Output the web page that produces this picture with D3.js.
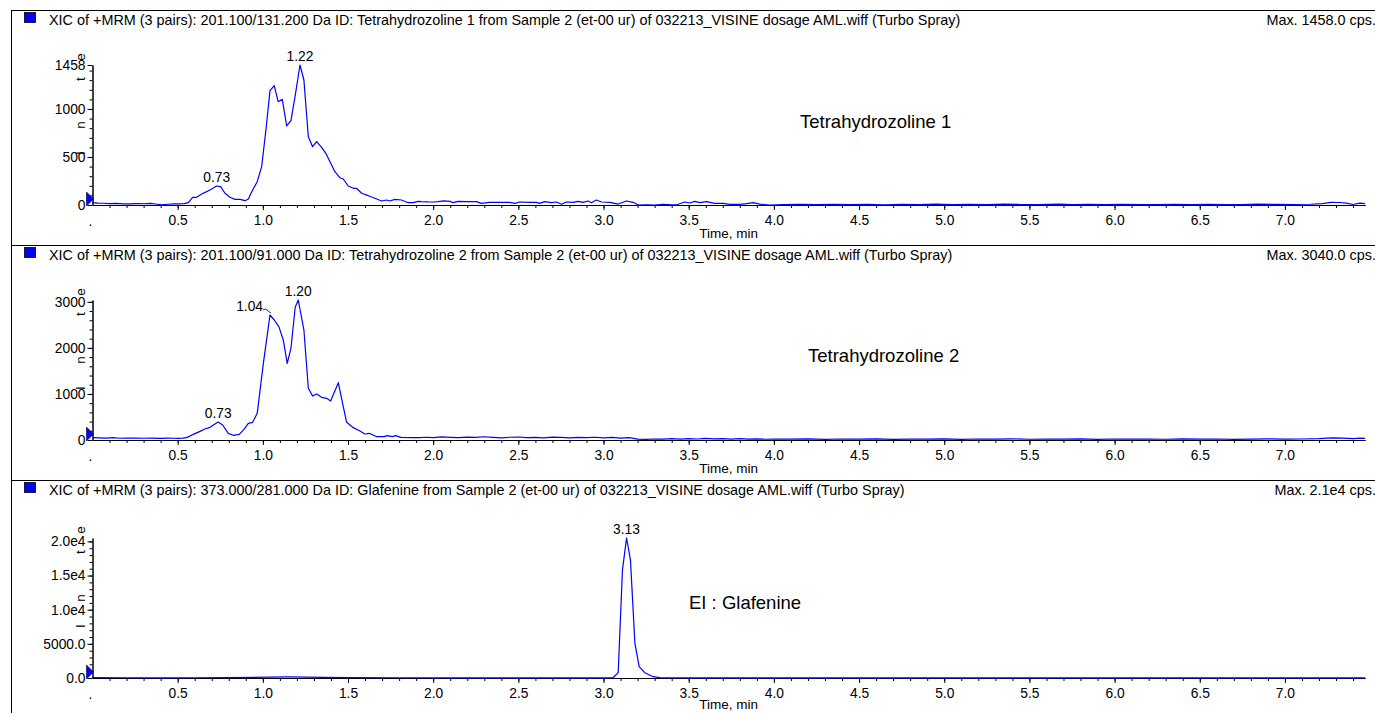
<!DOCTYPE html>
<html>
<head>
<meta charset="utf-8">
<script src="https://cdn.jsdelivr.net/npm/d3@7"></script>
<style>
  body { margin: 0; background: #fff; }
  svg { display: block; font-family: "Liberation Sans", Arial, sans-serif; }
  .axis text { font-family: "Liberation Sans", Arial, sans-serif; font-size: 13.8px; fill: #000; }
  .axis path, .axis line { stroke: #000; stroke-width: 1; }
</style>
</head>
<body>
<svg id="chart" width="1375" height="713"></svg>
<script>
/*
Three stacked XIC traces (MRM), one panel per transition
*/
var headers = [
  "XIC of +MRM (3 pairs): 201.100/131.200 Da ID: Tetrahydrozoline 1 from Sample 2 (et-00 ur) of 032213_VISINE dosage AML.wiff (Turbo Spray)",
  "XIC of +MRM (3 pairs): 201.100/91.000 Da ID: Tetrahydrozoline 2 from Sample 2 (et-00 ur) of 032213_VISINE dosage AML.wiff (Turbo Spray)",
  "XIC of +MRM (3 pairs): 373.000/281.000 Da ID: Glafenine from Sample 2 (et-00 ur) of 032213_VISINE dosage AML.wiff (Turbo Spray)"
];
var maxLabels = ["Max. 1458.0 cps.", "Max. 3040.0 cps.", "Max. 2.1e4 cps."];
var names = ["Tetrahydrozoline 1", "Tetrahydrozoline 2", "EI : Glafenine"];
var yMax = [1458, 3040, 20500];
var yTicks = [[0, 500, 1000, 1458], [0, 1000, 2000, 3000], [0, 5000, 10000, 15000, 20000]];
var yTickLabels = [["0", "500", "1000", "1458"], ["0", "1000", "2000", "3000"], ["0.0", "5000.0", "1.0e4", "1.5e4", "2.0e4"]];
var yMinorStep = [100, 200, 1000];
var xTicks = [0.5, 1.0, 1.5, 2.0, 2.5, 3.0, 3.5, 4.0, 4.5, 5.0, 5.5, 6.0, 6.5, 7.0];

var times1 = [0.00, 0.03, 0.06, 0.10, 0.14, 0.18, 0.22, 0.26, 0.30, 0.34, 0.38, 0.41, 0.44, 0.48, 0.51, 0.54,
  0.562, 0.588, 0.611, 0.641, 0.670, 0.699, 0.729, 0.752, 0.778, 0.807, 0.836, 0.866, 0.895, 0.915, 0.940,
  0.967, 0.993, 1.018, 1.042, 1.067, 1.090, 1.114, 1.140, 1.165, 1.192, 1.218, 1.241, 1.267, 1.292, 1.316,
  1.345, 1.370, 1.394, 1.423, 1.452, 1.472, 1.501, 1.531, 1.550, 1.580, 1.619, 1.658, 1.697, 1.726, 1.746,
  1.775, 1.814, 1.853, 1.882, 1.912, 1.932, 1.970, 2.000, 2.030, 2.059, 2.100, 2.117, 2.146, 2.195, 2.254,
  2.283, 2.332, 2.391, 2.449, 2.478, 2.508, 2.567, 2.606, 2.625, 2.655, 2.694, 2.723, 2.753, 2.782, 2.821,
  2.850, 2.880, 2.909, 2.929, 2.958, 2.988, 3.037, 3.086, 3.135, 3.174, 3.204, 3.25, 3.30, 3.35, 3.40, 3.43,
  3.477, 3.506, 3.536, 3.565, 3.604, 3.653, 3.702, 3.741, 3.80, 3.84, 3.878, 3.917, 3.976, 4.054, 4.15, 4.25,
  4.35, 4.45, 4.55, 4.65, 4.75, 4.85, 4.95, 5.05, 5.15, 5.25, 5.35, 5.45, 5.55, 5.68, 5.75, 5.85, 5.95, 6.04,
  6.15, 6.25, 6.35, 6.45, 6.55, 6.65, 6.75, 6.84, 6.95, 7.05, 7.15, 7.22, 7.27, 7.32, 7.36, 7.40, 7.44, 7.47];
var inten1 = [24, 20, 18, 15, 16, 12, 11, 14, 13, 16, 8, 2, 8, 12, 11, 14,
  24, 80, 80, 115, 139, 167, 198, 191, 122, 80, 59, 59, 45, 62, 156,
  243, 399, 781, 1191, 1243, 1076, 1101, 823, 878, 1163, 1458, 1302, 711, 607, 659,
  601, 538, 451, 347, 284, 271, 198, 174, 174, 122, 97, 70, 42, 52, 42,
  59, 52, 24, 25, 38, 35, 32, 31, 36, 42, 38, 24, 38, 35, 35,
  17, 28, 28, 28, 17, 31, 28, 28, 17, 35, 24, 31, 7, 31, 28,
  38, 28, 42, 24, 52, 31, 28, 10, 42, 28, 0, 2, 0, 7, 2, 2,
  31, 21, 38, 24, 35, 17, 17, 7, 7, 14, 24, 10, 0, 3, 7, 4,
  8, 3, 6, 2, 7, 4, 9, 3, 6, 4, 10, 5, 3, 10, 4, 6, 3, 8,
  5, 4, 7, 3, 6, 5, 4, 10, 6, 5, 8, 15, 28, 26, 20, 5, 20, 15];

var times2 = [0.00, 0.04, 0.08, 0.12, 0.16, 0.20, 0.25, 0.30, 0.35, 0.40, 0.44, 0.48, 0.50, 0.53, 0.553,
  0.592, 0.631, 0.660, 0.690, 0.719, 0.738, 0.764, 0.797, 0.826, 0.862, 0.889, 0.915, 0.940, 0.967, 1.003,
  1.042, 1.067, 1.094, 1.120, 1.143, 1.165, 1.190, 1.208, 1.241, 1.267, 1.292, 1.316, 1.345, 1.374, 1.398,
  1.443, 1.468, 1.492, 1.531, 1.570, 1.599, 1.625, 1.668, 1.712, 1.730, 1.760, 1.780, 1.810, 1.878, 1.917,
  1.96, 2.00, 2.05, 2.10, 2.15, 2.20, 2.25, 2.30, 2.35, 2.40, 2.45, 2.50, 2.55, 2.60, 2.65, 2.70, 2.75,
  2.80, 2.85, 2.90, 2.95, 3.00, 3.05, 3.10, 3.15, 3.20, 3.25, 3.30, 3.35, 3.40, 3.45, 3.50, 3.55, 3.60,
  3.65, 3.70, 3.75, 3.80, 3.85, 3.90, 3.95, 4.00, 4.10, 4.20, 4.30, 4.40, 4.50, 4.60, 4.70, 4.80, 4.90,
  5.00, 5.10, 5.20, 5.30, 5.40, 5.50, 5.60, 5.70, 5.80, 5.90, 6.00, 6.10, 6.20, 6.30, 6.40, 6.50, 6.60,
  6.70, 6.80, 6.90, 7.00, 7.10, 7.20, 7.28, 7.34, 7.40, 7.44, 7.47];
var inten2 = [51, 45, 40, 50, 38, 42, 40, 38, 42, 36, 40, 38, 35, 40, 51,
  123, 188, 239, 275, 347, 391, 326, 145, 102, 123, 232, 362, 384, 579, 1665,
  2714, 2606, 2461, 2172, 1665, 1991, 2882, 3040, 2389, 1122, 955, 999, 927, 905, 847,
  1245, 797, 384, 268, 195, 130, 145, 72, 72, 94, 72, 94, 58, 51, 51,
  60, 52, 66, 58, 50, 62, 55, 70, 58, 48, 60, 65, 52, 58, 48, 62, 55,
  45, 58, 50, 60, 48, 55, 42, 50, 20, 15, 22, 18, 28, 20, 30, 22, 35,
  25, 30, 20, 28, 18, 24, 16, 22, 18, 25, 15, 22, 18, 26, 15, 20, 17,
  24, 15, 22, 18, 25, 16, 21, 18, 24, 15, 22, 18, 20, 16, 24, 18, 22,
  15, 20, 24, 18, 22, 30, 45, 40, 28, 42, 35];

var times3 = [0.00, 0.20, 0.40, 0.60, 0.80, 0.95, 1.05, 1.15, 1.25, 1.35, 1.50, 1.80, 2.20, 2.60, 3.00,
  3.056, 3.086, 3.111, 3.135, 3.158, 3.184, 3.209, 3.242, 3.291, 3.33, 3.50, 4.00, 4.50, 5.00, 5.50,
  6.00, 6.50, 7.00, 7.47];
var inten3 = [60, 40, 30, 40, 60, 90, 140, 160, 140, 100, 60, 40, 30, 25, 30,
  40, 780, 15800, 20500, 17300, 5100, 1660, 780, 190, 50, 20, 15, 10, 10, 8,
  8, 8, 8, 8];

var peaks1 = [[0.729, 198, "0.73"], [1.218, 1458, "1.22"]];
var peaks2 = [[0.738, 391, "0.73"], [1.208, 3040, "1.20"]];
var leaderPeaks2 = [[1.042, 2714, "1.04"]];
var peaks3 = [[3.135, 20500, "3.13"]];

var traces = [d3.zip(times1, inten1), d3.zip(times2, inten2), d3.zip(times3, inten3)];
var peaks = [peaks1, peaks2, peaks3];

var svg = d3.select("#chart");
var panelTop = [10, 245, 480];
var baseY = [205, 440, 678];
var timeLabelDy = [33, 33, 31];
var plotH = 140;

var x = d3.scaleLinear().domain([0, 7.47]).range([92.5, 1365]);

// outer frame
svg.append("line").attr("x1", 11.5).attr("x2", 11.5).attr("y1", 10).attr("y2", 713)
  .attr("stroke", "#000");
panelTop.forEach(function(t) {
  svg.append("line").attr("x1", 11).attr("x2", 1375).attr("y1", t + 0.5).attr("y2", t + 0.5)
    .attr("stroke", "#000");
});

traces.forEach(function(data, i) {
  var top = panelTop[i], base = baseY[i];
  var y = d3.scaleLinear().domain([0, yMax[i]]).range([base, base - plotH]);
  var g = svg.append("g");

  // header
  g.append("rect").attr("x", 24.5).attr("y", top + 2.5).attr("width", 11).attr("height", 10)
    .attr("fill", "#0000ff").attr("stroke", "#000").attr("stroke-width", 0.8);
  g.append("text").attr("x", 49).attr("y", top + 15).attr("font-size", "14.4px").text(headers[i]);
  g.append("text").attr("x", 1376).attr("y", top + 15).attr("font-size", "14.4px")
    .attr("text-anchor", "end").text(maxLabels[i]);

  // x axis with minor ticks
  g.append("g").attr("class", "axis").attr("transform", "translate(0," + base + ")")
    .call(d3.axisBottom(x).tickValues(d3.range(1, 75).map(function(k) { return k / 10; }))
      .tickSize(3).tickSizeOuter(0).tickFormat(""));
  var xa = g.append("g").attr("class", "axis").attr("transform", "translate(0," + base + ")")
    .call(d3.axisBottom(x).tickValues(xTicks).tickSize(5).tickSizeOuter(0).tickPadding(5)
      .tickFormat(d3.format(".1f")));
  xa.attr("font-size", null).attr("font-family", null);
  g.append("text").attr("x", x(0) - 4).attr("y", base + 21).attr("font-size", "13.8px").text(".");
  g.append("text").attr("x", (x.range()[0] + x.range()[1]) / 2).attr("y", base + timeLabelDy[i])
    .attr("text-anchor", "middle").attr("font-size", "13.5px").text("Time, min");

  // y axis with minor ticks
  g.append("g").attr("class", "axis").attr("transform", "translate(" + x(0) + ",0)")
    .call(d3.axisLeft(y).tickValues(d3.range(yMinorStep[i], yMax[i], yMinorStep[i]))
      .tickSize(3).tickSizeOuter(0).tickFormat(""));
  var ya = g.append("g").attr("class", "axis").attr("transform", "translate(" + x(0) + ",0)")
    .call(d3.axisLeft(y).tickValues(yTicks[i]).tickSize(5).tickSizeOuter(0).tickPadding(2)
      .tickFormat(function(d, k) { return yTickLabels[i][k]; }));
  ya.attr("font-size", null).attr("font-family", null);

  // scattered letters of the rotated "Intensity" title
  [["I", 52], ["n", 80], ["t", 126], ["e", 148]].forEach(function(c) {
    g.append("text").attr("transform", "translate(" + (x(0) - 8) + "," + (base - c[1]) + ")rotate(-90)")
      .attr("text-anchor", "middle").attr("font-size", "13.5px").text(c[0]);
  });

  // start marker
  g.append("path")
    .attr("d", "M" + (x(0) - 6) + "," + (base - 13) + "L" + (x(0) + 1) + "," + (base - 6) + "L" + (x(0) - 6) + "," + (base + 1) + "Z")
    .attr("fill", "#0000ff").attr("stroke", "#000040").attr("stroke-width", 0.6);

  // trace
  g.append("path").datum(data)
    .attr("fill", "none").attr("stroke", "#0000ff").attr("stroke-width", 1.2)
    .attr("stroke-linejoin", "round")
    .attr("d", d3.line().x(function(d) { return x(d[0]); }).y(function(d) { return y(d[1]); }));

  // peak labels
  g.selectAll(".peak").data(peaks[i]).enter().append("text")
    .attr("x", function(d) { return x(d[0]); })
    .attr("y", function(d) { return y(d[1]) - 4; })
    .attr("text-anchor", "middle").attr("font-size", "13.8px")
    .text(function(d) { return d[2]; });

  if (i === 1) {
    leaderPeaks2.forEach(function(d) {
      var px = x(d[0]), py = y(d[1]);
      g.append("text").attr("x", px - 7).attr("y", py - 4).attr("text-anchor", "end")
        .attr("font-size", "13.8px").text(d[2]);
      g.append("path").attr("d", "M" + (px - 7) + "," + (py - 5) + "q2,-2 4,0t4,3")
        .attr("fill", "none").attr("stroke", "#000").attr("stroke-width", 0.8);
    });
  }

  // compound name
  var nameX = [800, 808, 689], nameY = [128, 362, 609];
  g.append("text").attr("x", nameX[i]).attr("y", nameY[i]).attr("font-size", "18.5px").text(names[i]);
});
</script>
</body>
</html>
